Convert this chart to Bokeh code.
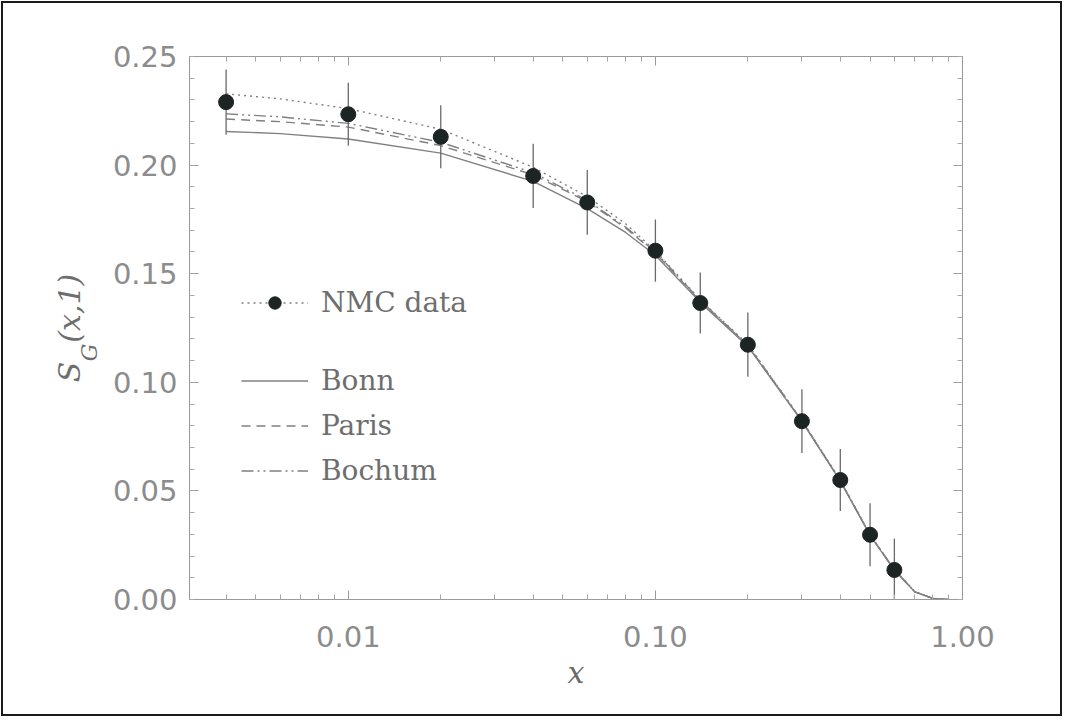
import numpy as np
from bokeh.plotting import figure
from bokeh.models import (Range1d, FixedTicker, PrintfTickFormatter, LinearAxis, LogAxis,
                          Legend, LegendItem, ColumnDataSource)
from bokeh.embed import file_html
from bokeh.resources import INLINE

# ---------------- data ----------------
nmc_x = [0.004, 0.01, 0.02, 0.04, 0.06, 0.10, 0.14, 0.20, 0.30, 0.40, 0.50, 0.60]
nmc_y = [0.229, 0.2234, 0.2130, 0.1950, 0.1828, 0.1606, 0.1365, 0.1173, 0.0821, 0.0550, 0.0298, 0.0136]
nmc_err = [0.0150, 0.0145, 0.0145, 0.0148, 0.0149, 0.0143, 0.0140, 0.0148, 0.0147, 0.0143, 0.0145, 0.0145]

curve_x = [0.004, 0.006, 0.01, 0.02, 0.04, 0.06, 0.08, 0.10, 0.14, 0.20, 0.30, 0.40, 0.50, 0.60, 0.70, 0.80, 0.90]
bonn    = [0.2155, 0.2145, 0.2120, 0.2055, 0.1925, 0.1800, 0.1690, 0.1585, 0.1368, 0.1165, 0.0820, 0.0545, 0.0295, 0.0135, 0.0034, 0.0005, 0.0]
paris   = [0.2212, 0.2200, 0.2175, 0.2090, 0.1955, 0.1832, 0.1710, 0.1595, 0.1374, 0.1170, 0.0822, 0.0547, 0.0297, 0.0136, 0.0035, 0.0005, 0.0]
bochum  = [0.2236, 0.2222, 0.2192, 0.2105, 0.1965, 0.1838, 0.1715, 0.1600, 0.1377, 0.1172, 0.0823, 0.0548, 0.0298, 0.0137, 0.0036, 0.0005, 0.0]
nmc_fit = [0.2328, 0.2305, 0.2260, 0.2165, 0.1990, 0.1855, 0.1730, 0.1605, 0.1380, 0.1175, 0.0825, 0.0550, 0.0300, 0.0138, 0.0037, 0.0005, 0.0]

y_ticks = [0.0, 0.05, 0.10, 0.15, 0.20, 0.25]
x_ticks = [0.01, 0.1, 1.0]
x_lo, x_hi = 0.00304, 1.0
NB = "\u00a0"
y_label_main = "S" + NB * 2 + "(x,1)"
y_label_sub = "G" + NB * 7

# ---------------- style ----------------
GRAY = "#8c8c8c"
LINE = "#808080"
DOT = "#1c2424"
TICKFONT = "DejaVu Sans"
SERIF = "DejaVu Serif"

W, H = 1061, 715
p = figure(width=W, height=H, x_axis_type="log",
           x_range=Range1d(x_lo, x_hi), y_range=Range1d(0.0, 0.25),
           output_backend="svg", toolbar_location=None,
           min_border_left=186, min_border_right=102, min_border_top=53, min_border_bottom=119)
p.styles = {"border": "2px solid #1a1a1a", "margin": "1px", "background-color": "white"}
p.background_fill_color = "white"
p.border_fill_color = "white"
p.outline_line_color = "#9a9a9a"
p.grid.visible = False

y_minor = [round(i * 0.01, 2) for i in range(0, 26)]
x_minor = [m * d for d in (0.001, 0.01, 0.1) for m in range(2, 10) if m * d > 0.003]

def style_axis(ax, labels=True):
    ax.axis_line_color = "#9a9a9a"
    ax.major_tick_line_color = "#9a9a9a"
    ax.minor_tick_line_color = "#a8a8a8"
    ax.major_tick_in = 9
    ax.major_tick_out = 0
    ax.minor_tick_in = 5
    ax.minor_tick_out = 0
    ax.major_label_text_color = GRAY
    ax.major_label_text_font = TICKFONT
    ax.major_label_text_font_size = "29px" if labels else "0px"
    if not labels:
        ax.major_label_text_alpha = 0

p.yaxis.ticker = FixedTicker(ticks=y_ticks, minor_ticks=y_minor)
p.yaxis.formatter = PrintfTickFormatter(format="%.2f")
p.xaxis.ticker = FixedTicker(ticks=x_ticks, minor_ticks=x_minor)
p.xaxis.formatter = PrintfTickFormatter(format="%.2f")
style_axis(p.yaxis[0])
style_axis(p.xaxis[0])
p.yaxis.major_label_standoff = 12
p.xaxis.major_label_standoff = 26
p.xaxis.axis_label = "x"
p.xaxis.axis_label_text_font = SERIF
p.xaxis.axis_label_text_font_style = "italic"
p.xaxis.axis_label_text_font_size = "30px"
p.xaxis.axis_label_text_color = "#6a6a6a"
p.xaxis.axis_label_standoff = 5

ra = LinearAxis(ticker=FixedTicker(ticks=y_ticks, minor_ticks=y_minor))
style_axis(ra, labels=False)
p.add_layout(ra, "right")
ta = LogAxis(ticker=FixedTicker(ticks=x_ticks, minor_ticks=x_minor))
style_axis(ta, labels=False)
p.add_layout(ta, "above")

# y axis label S_G(x,1): subscript and main text on two label-only axes
def label_axis(text, size, standoff):
    ax = LinearAxis(ticker=FixedTicker(ticks=[]), axis_line_color=None,
                    major_tick_line_color=None, minor_tick_line_color=None,
                    major_label_text_font_size="0px",
                    axis_label=text, axis_label_text_font=SERIF,
                    axis_label_text_font_style="italic",
                    axis_label_text_font_size=size, axis_label_text_color="#6e6e6e",
                    axis_label_standoff=standoff)
    p.add_layout(ax, "left")
    return ax

label_axis(y_label_sub, "22px", 8)
label_axis(y_label_main, "30px", -13)

# ---------------- curves ----------------
r_fit = p.line(curve_x, nmc_fit, line_color=LINE, line_width=1.4, line_dash="2 4")
r_bonn = p.line(curve_x, bonn, line_color=LINE, line_width=1.4)
r_paris = p.line(curve_x, paris, line_color=LINE, line_width=1.4, line_dash="9 6")
r_boch = p.line(curve_x, bochum, line_color=LINE, line_width=1.4, line_dash="12 4 2 4 2 4")

# ---------------- data points ----------------
src = ColumnDataSource(dict(x=nmc_x, y=nmc_y,
                            lo=[v - e for v, e in zip(nmc_y, nmc_err)],
                            hi=[v + e for v, e in zip(nmc_y, nmc_err)]))
p.segment(x0="x", y0="lo", x1="x", y1="hi", source=src, line_color="#6a6a6a", line_width=1.3)
r_pts = p.scatter("x", "y", source=src, size=15, fill_color=DOT, line_color=DOT)

# ---------------- legends ----------------
def make_legend(items, loc):
    lg = Legend(items=items, location=loc, border_line_color=None,
                background_fill_alpha=0, padding=0, margin=0,
                glyph_width=67, glyph_height=31, label_height=31,
                label_standoff=13, spacing=12,
                label_text_font=SERIF, label_text_font_size="28px",
                label_text_color="#6e6e6e")
    return lg

lg1 = make_legend([LegendItem(label="NMC data", renderers=[r_fit, r_pts])], (52, 280))
lg2 = make_legend([LegendItem(label="Bonn", renderers=[r_bonn]),
                   LegendItem(label="Paris", renderers=[r_paris]),
                   LegendItem(label="Bochum", renderers=[r_boch])], (52, 112))
p.add_layout(lg1)
p.add_layout(lg2)

open("out.html", "w").write(file_html(p, INLINE))
